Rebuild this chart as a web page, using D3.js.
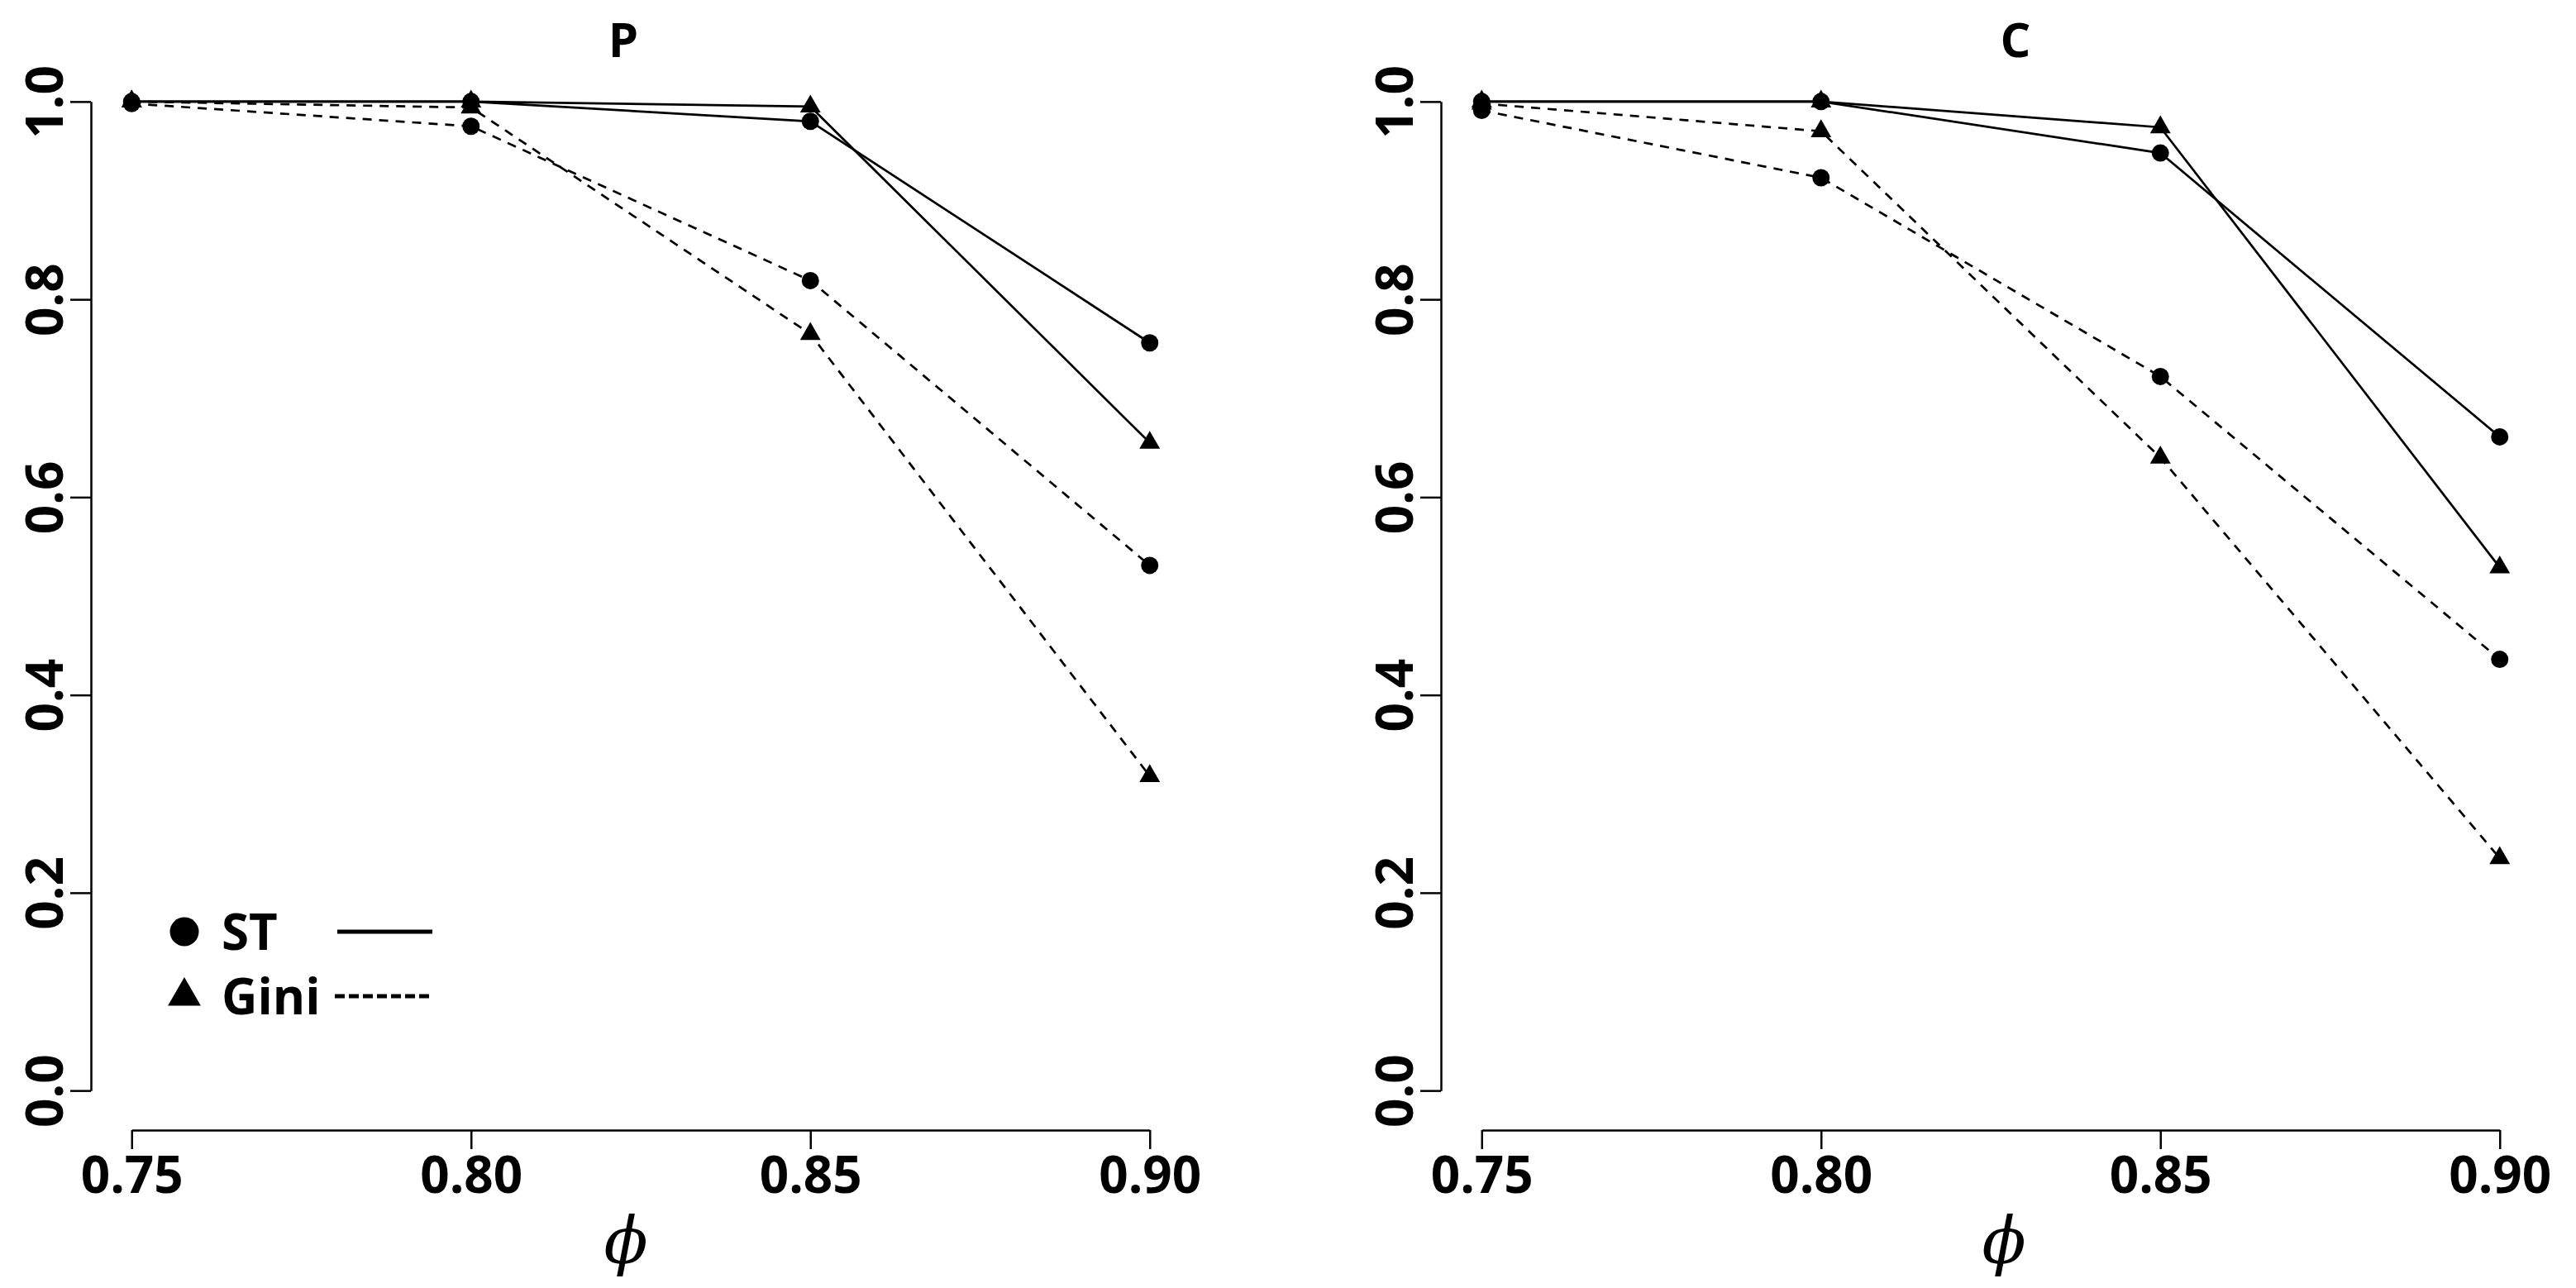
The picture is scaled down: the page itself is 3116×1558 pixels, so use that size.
<!DOCTYPE html>
<html>
<head>
<meta charset="utf-8">
<script src="https://cdn.jsdelivr.net/npm/d3@7"></script>
<style>
  body { margin: 0; background: #fff; }
  svg { display: block; }
  text { font-family: "Open Sans", sans-serif; font-weight: 700; fill: #000; }
</style>
</head>
<body>
<svg id="chart" width="3116" height="1558"></svg>
<script>
// phi values on the x axis
const phiValues = [0.75, 0.80, 0.85, 0.90];
const yTicks = [0.0, 0.2, 0.4, 0.6, 0.8, 1.0];

// panel P
const pCircleSolid = [1.000, 1.000, 0.980, 0.756];
const pTriangleSolid = [1.000, 1.000, 0.995, 0.655];
const pCircleDashed = [0.998, 0.975, 0.819, 0.531];
const pTriangleDashed = [1.000, 0.994, 0.765, 0.318];

// panel C
const cCircleSolid = [1.000, 1.000, 0.948, 0.661];
const cTriangleSolid = [1.000, 1.000, 0.974, 0.529];
const cCircleDashed = [0.991, 0.923, 0.722, 0.436];
const cTriangleDashed = [0.998, 0.970, 0.640, 0.235];

const legendLabels = ["ST", "Gini"];

const panels = [
  {
    title: "P", left: 110, titleX: 754, labelX: 757,
    series: [
      { values: pCircleSolid, shape: "circle", dashed: false },
      { values: pTriangleSolid, shape: "triangle", dashed: false },
      { values: pCircleDashed, shape: "circle", dashed: true },
      { values: pTriangleDashed, shape: "triangle", dashed: true }
    ],
    legend: true
  },
  {
    title: "C", left: 1743, titleX: 2438, labelX: 2424,
    series: [
      { values: cCircleSolid, shape: "circle", dashed: false },
      { values: cTriangleSolid, shape: "triangle", dashed: false },
      { values: cCircleDashed, shape: "circle", dashed: true },
      { values: cTriangleDashed, shape: "triangle", dashed: true }
    ],
    legend: false
  }
];

const svg = d3.select("#chart");

const plotWidth = 1330;
const plotTop = 75;
const plotBottom = 1367;
const pad = 0.04;

const symbolSize = (shape) => {
  return shape === "circle" ? Math.PI * 10.5 * 10.5 : 7.2 * 7.2 * 3 * Math.sqrt(3);
};

panels.forEach((panel) => {
  const g = svg.append("g");

  const xInner = plotWidth * pad / (1 + 2 * pad);
  const x = d3.scaleLinear()
    .domain([0.75, 0.90])
    .range([panel.left + xInner, panel.left + plotWidth - xInner]);

  const plotHeight = plotBottom - plotTop;
  const yInner = plotHeight * pad / (1 + 2 * pad);
  const y = d3.scaleLinear()
    .domain([0, 1])
    .range([plotBottom - yInner, plotTop + yInner]);

  // x axis
  const xAxis = g.append("g")
    .attr("transform", "translate(0," + plotBottom + ")")
    .call(d3.axisBottom(x)
      .tickValues(phiValues)
      .tickFormat(d3.format(".2f"))
      .tickSize(23)
      .tickSizeOuter(0)
      .tickPadding(9));
  xAxis.selectAll("path, line").attr("stroke", "#000").attr("stroke-width", 2.5);
  xAxis.selectAll("text").attr("font-size", 62).style("font-family", "'Open Sans', sans-serif").style("font-weight", 700);

  // y axis
  const yAxis = g.append("g")
    .attr("transform", "translate(" + panel.left + ",0)")
    .call(d3.axisLeft(y)
      .tickValues(yTicks)
      .tickFormat(d3.format(".1f"))
      .tickSize(25)
      .tickSizeOuter(0));
  yAxis.selectAll("path, line").attr("stroke", "#000").attr("stroke-width", 2.5);
  yAxis.selectAll("text")
    .attr("x", null)
    .attr("dy", null)
    .attr("text-anchor", "middle")
    .attr("transform", "translate(-34,0) rotate(-90)")
    .attr("font-size", 62)
    .style("font-family", "'Open Sans', sans-serif")
    .style("font-weight", 700);

  // title
  g.append("text")
    .attr("x", panel.titleX)
    .attr("y", 69)
    .attr("text-anchor", "middle")
    .attr("font-size", 58)
    .text(panel.title);

  // x label
  g.append("text")
    .attr("x", panel.labelX)
    .attr("y", 1528)
    .attr("text-anchor", "middle")
    .attr("font-size", 78)
    .style("font-family", "'DejaVu Serif', serif")
    .style("font-style", "italic")
    .style("font-weight", 400)
    .text("\u03D5");

  const line = d3.line()
    .x((d, i) => x(phiValues[i]))
    .y((d) => y(d));

  panel.series.forEach((s) => {
    g.append("path")
      .datum(s.values)
      .attr("d", line)
      .attr("fill", "none")
      .attr("stroke", "#000")
      .attr("stroke-width", 2.7)
      .attr("stroke-dasharray", s.dashed ? "11,9" : null);

    g.selectAll(null)
      .data(s.values)
      .enter()
      .append("path")
      .attr("d", d3.symbol()
        .type(s.shape === "circle" ? d3.symbolCircle : d3.symbolTriangle)
        .size(symbolSize(s.shape)))
      .attr("transform", (d, i) => "translate(" + x(phiValues[i]) + "," + y(d) + ")")
      .attr("fill", "#000");
  });

  if (panel.legend) {
    const lg = g.append("g");
    const rows = [
      { label: legendLabels[0], shape: d3.symbolCircle, size: Math.PI * 17.5 * 17.5, cy: 1127, dashed: false },
      { label: legendLabels[1], shape: d3.symbolTriangle, size: 11.5 * 11.5 * 3 * Math.sqrt(3), cy: 1205, dashed: true }
    ];
    rows.forEach((r) => {
      lg.append("path")
        .attr("d", d3.symbol().type(r.shape).size(r.size))
        .attr("transform", "translate(223," + r.cy + ")")
        .attr("fill", "#000");
      lg.append("text")
        .attr("x", 268)
        .attr("y", r.cy + 22)
        .attr("font-size", 60)
        .text(r.label);
      lg.append("line")
        .attr("x1", r.dashed ? 405 : 408)
        .attr("x2", r.dashed ? 520 : 523)
        .attr("y1", r.cy)
        .attr("y2", r.cy)
        .attr("stroke", "#000")
        .attr("stroke-width", 5)
        .attr("stroke-dasharray", r.dashed ? "12,5" : null);
    });
  }
});
</script>
</body>
</html>
